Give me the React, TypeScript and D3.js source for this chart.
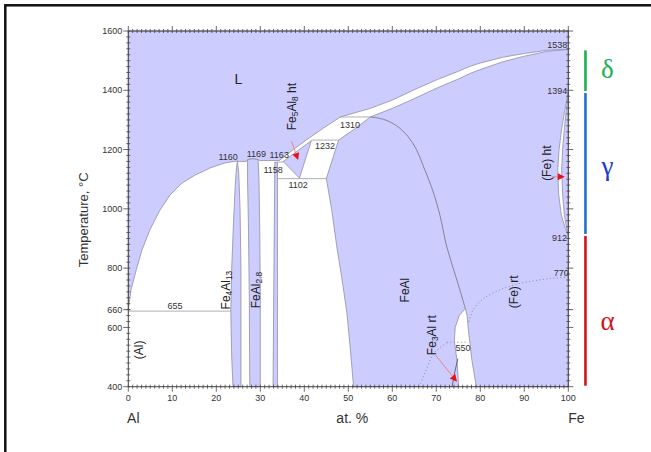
import * as d3 from 'd3';

type Pt = [number, number]; // [at.% Fe, temperature °C]

// single-phase fields (filled)
const liquid: Pt[] = [
  [0, 1600], [100, 1600], [100, 1538], [95, 1535], [92.9, 1530], [90, 1524], [85.3, 1512],
  [80, 1492], [77.7, 1481], [75, 1464], [70.2, 1436], [65, 1402], [62.6, 1385], [60, 1367],
  [55, 1339], [48.2, 1310], [44.3, 1272], [40.6, 1234], [37.5, 1200], [35.3, 1175],
  [34.3, 1163], [29.8, 1163], [29.5, 1166], [28.3, 1169], [27.1, 1166], [26.8, 1160],
  [25.2, 1160], [24.8, 1161], [24.5, 1161], [22, 1155], [18.6, 1138], [15.2, 1114],
  [12.2, 1087], [9.5, 1047], [7.2, 996], [4.9, 929], [3.1, 861], [1.8, 794], [0.6, 726],
  [0, 660],
];
const fe4al13: Pt[] = [
  [24.8, 1161], [25.1, 1120], [25.4, 1000], [25.6, 800], [25.6, 600], [25.6, 400],
  [23.8, 400], [23.5, 500], [23.3, 655], [23.5, 800], [23.9, 950], [24.3, 1080], [24.6, 1140],
];
const fe2al5: Pt[] = [
  [27.1, 1166], [28.3, 1169], [29.5, 1166], [29.7, 1100], [29.9, 900], [30, 700], [30, 400],
  [27.6, 400], [27.5, 700], [27.3, 950], [27.1, 1100],
];
const feal2: Pt[] = [
  [33.3, 1157], [33.9, 1157], [33.9, 800], [33.9, 400], [32.9, 400], [33.1, 800],
];
const fe5al8: Pt[] = [[35.2, 1160], [41.6, 1230], [38.9, 1104]];
const fealFe: Pt[] = [
  [100, 1538], [95, 1531], [92.9, 1524], [90, 1515], [85.3, 1497], [80, 1470], [77.7, 1457],
  [75, 1438], [70.2, 1408], [65, 1372], [62.6, 1356], [60, 1339], [55, 1310], [51.5, 1270],
  [47.8, 1232], [45, 1102], [46.2, 1000], [47.4, 871], [48.6, 760], [49.7, 647], [50.5, 520],
  [51.2, 400], [75.1, 400], [74.7, 488], [74.1, 555], [74.3, 600], [75.2, 640], [76.6, 664],
  [77, 640], [77.3, 589], [77.7, 540], [78.1, 488], [79.1, 400], [100, 400],
];
const gammaOuter: Pt[] = [
  [100, 1394], [99.3, 1340], [98.5, 1270], [97.9, 1200], [97.6, 1131], [97.8, 1050],
  [98.4, 980], [99.3, 935], [100, 912],
];
const gammaInner: Pt[] = [
  [100, 1394], [99.6, 1340], [99.1, 1270], [98.7, 1200], [98.5, 1131], [98.7, 1050],
  [99.1, 980], [99.6, 935], [100, 912],
];

// transition lines
const b2Line: Pt[] = [
  [55, 1310], [58, 1302], [61, 1280], [63.5, 1245], [65.5, 1200], [67.1, 1142], [69, 1070],
  [70.8, 980], [72.4, 871], [74.7, 759], [76.6, 664],
];
const d03Solid: Pt[] = [[74.9, 495], [74.2, 450], [73.6, 400]];
const curie: Pt[] = [
  [100, 770], [96, 765], [92, 757], [88, 745], [84.5, 727], [81, 700], [78.4, 660], [77.4, 618],
];
const d03Dotted: Pt[] = [[72.4, 548], [69.4, 512], [67.8, 460], [66.4, 411], [66.1, 400]];
const dotted550: Pt[] = [[72.4, 550], [77.2, 550]];

// invariant lines: [temperature, from, to]
const isotherms: [number, number, number][] = [
  [655, 0, 23.3], [1158, 33.9, 35.3], [1102, 33.9, 45], [1232, 41.6, 47.8], [1310, 48.2, 55],
];

// temperature annotations: [text, at.%, °C]
const tempLabels: [string, number, number][] = [
  ['1160', 22.7, 1175], ['1169', 29.1, 1185], ['1163', 34.3, 1182], ['1158', 32.9, 1131],
  ['1232', 44.7, 1212], ['1310', 50.4, 1283], ['1102', 38.6, 1080], ['1538', 97.5, 1553],
  ['1394', 97.5, 1398], ['912', 98, 902], ['770', 98.4, 784], ['655', 10.6, 672],
  ['550', 76.1, 530],
];

// phase names: [text ({} = subscript), at.%, °C, rotated]
const phaseLabels: [string, number, number, boolean][] = [
  ['L', 25, 1441, false],
  ['Fe{5}Al{8} ht', 36.8, 1345, true],
  ['Fe{4}Al{13}', 21.8, 726, true],
  ['FeAl{2.8}', 28.6, 726, true],
  ['(Al)', 2.1, 524, true],
  ['FeAl', 62.6, 726, true],
  ['Fe{3}Al rt', 68.6, 574, true],
  ['(Fe) rt', 87.2, 720, true],
  ['(Fe) ht', 94.7, 1154, true],
];

// pointer arrows: [from, to]
const arrows: [Pt, Pt][] = [
  [[37.1, 1228], [38.6, 1165]],
  [[69.8, 507], [74.7, 417]],
  [[96.2, 1108], [99.2, 1108]],
];

const xTicks = d3.range(0, 101, 10);
const yTicks = d3.range(400, 1601, 200);
const xMinor = d3.range(0, 101, 1).filter((v) => v % 10 !== 0);
const yMinor = d3.range(400, 1601, 20).filter((v) => v % 200 !== 0);

// iron allotropes: [symbol, from °C, to °C, label °C, bar colour, text colour]
const ironBands: [string, number, number, number, string, string][] = [
  ['δ', 1394, 1538, 1468, '#1fae4f', '#1fae4f'],
  ['γ', 912, 1394, 1142, '#1f72c8', '#1a3ccc'],
  ['α', 400, 912, 619, '#d3121c', '#d3121c'],
];

const FILL = '#ccccff';
const EDGE = '#8e8ea4';

function rich(s: string, size: number) {
  const parts = s.split(/(\{[^}]*\})/).filter((p) => p.length);
  let sub = false;
  return parts.map((p, i) => {
    const isSub = p.startsWith('{');
    const dy = isSub && !sub ? size * 0.2 : !isSub && sub ? -size * 0.2 : 0;
    sub = isSub;
    return (
      <tspan key={i} dy={dy || undefined} fontSize={isSub ? size * 0.7 : size}>
        {isSub ? p.slice(1, -1) : p}
      </tspan>
    );
  });
}

export default function App() {
  const x = d3.scaleLinear().domain([0, 100]).range([128.3, 568.3]);
  const y = d3.scaleLinear().domain([400, 1600]).range([386.7, 31]);
  const lin = d3.line<Pt>().x((d) => x(d[0])).y((d) => y(d[1]));
  const curve = d3.line<Pt>().x((d) => x(d[0])).y((d) => y(d[1])).curve(d3.curveCatmullRom.alpha(0.5));
  const poly = (p: Pt[]) => (lin(p) ?? '') + 'Z';
  const x0 = x(0), x1 = x(100), y0 = y(400), y1 = y(1600);
  const font = 'Liberation Sans, Arial, sans-serif';

  return (
    <svg width={651} height={452} style={{ position: 'absolute', left: 0, top: 0 }}>
      <rect x={0} y={0} width={651} height={452} fill="#fff" />
      <rect x={5.3} y={5.3} width={700} height={500} fill="none" stroke="#111" strokeWidth={2.5} />

      {/* phase fields */}
      {[liquid, fe4al13, fe2al5, feal2, fe5al8, fealFe].map((p, i) => (
        <path key={i} d={poly(p)} fill={FILL} stroke={EDGE} strokeWidth={0.8} strokeLinejoin="round" />
      ))}
      <path d={poly(gammaOuter)} fill="#fff" stroke={EDGE} strokeWidth={0.8} />
      <path d={poly(gammaInner)} fill={FILL} stroke={EDGE} strokeWidth={0.8} />

      {isotherms.map(([t, a, b]) => (
        <line key={t} x1={x(a)} x2={x(b)} y1={y(t)} y2={y(t)} stroke="#9a9aa6" strokeWidth={0.8} />
      ))}

      <path d={curve(b2Line) ?? ''} fill="none" stroke="#7a7a88" strokeWidth={0.9} />
      <path d={lin(d03Solid) ?? ''} fill="none" stroke="#5a5a78" strokeWidth={0.9} />
      {[curie, d03Dotted, dotted550].map((p, i) => (
        <path key={i} d={curve(p) ?? ''} fill="none" stroke="#8a8aa0" strokeWidth={1} strokeDasharray="1 2.5" />
      ))}

      {/* frame + ticks */}
      <rect x={x0} y={y1} width={x1 - x0} height={y0 - y1} fill="none" stroke="#444" strokeWidth={1} />
      <g stroke="#444" strokeWidth={0.8}>
        {xMinor.map((v) => (
          <g key={`xm${v}`}>
            <line x1={x(v)} x2={x(v)} y1={y0 - 2} y2={y0 + 2} />
            <line x1={x(v)} x2={x(v)} y1={y1 - 2} y2={y1 + 2} />
          </g>
        ))}
        {xTicks.map((v) => (
          <g key={`xM${v}`}>
            <line x1={x(v)} x2={x(v)} y1={y0 - 2} y2={y0 + 5} />
            <line x1={x(v)} x2={x(v)} y1={y1 + 2} y2={y1 - 5} />
          </g>
        ))}
        {yMinor.map((v) => (
          <g key={`ym${v}`}>
            <line x1={x0 - 2} x2={x0 + 2} y1={y(v)} y2={y(v)} />
            <line x1={x1 - 2} x2={x1 + 2} y1={y(v)} y2={y(v)} />
          </g>
        ))}
        {[...yTicks, 660].map((v) => (
          <g key={`yM${v}`}>
            <line x1={x0 - 5} x2={x0 + 2} y1={y(v)} y2={y(v)} />
            <line x1={x1 - 2} x2={x1 + 5} y1={y(v)} y2={y(v)} />
          </g>
        ))}
      </g>
      <g fontFamily={font} fontSize={9} fill="#333">
        {xTicks.map((v) => (
          <text key={v} x={x(v)} y={y0 + 14} textAnchor="middle">{v}</text>
        ))}
        {[...yTicks, 660].map((v) => (
          <text key={v} x={x0 - 6} y={y(v)} dy="0.35em" textAnchor="end">{v}</text>
        ))}
        {tempLabels.map(([s, a, t]) => (
          <text key={s} x={x(a)} y={y(t)} dy="0.35em" textAnchor="middle">{s}</text>
        ))}
      </g>

      {/* axis titles */}
      <g fontFamily={font} fill="#333">
        <text transform={`translate(88,${(y0 + y1) / 2 + 11}) rotate(-90)`} textAnchor="middle" fontSize={13}>
          Temperature, °C
        </text>
        <text x={x(50) + 4} y={423} textAnchor="middle" fontSize={14}>at. %</text>
        <text x={x(0) + 5} y={423} textAnchor="middle" fontSize={14}>Al</text>
        <text x={x(100) + 8} y={423} textAnchor="middle" fontSize={14}>Fe</text>
      </g>

      {/* phase labels */}
      <g fontFamily={font} fill="#222">
        {phaseLabels.map(([s, a, t, rot]) => (
          <text
            key={s}
            transform={`translate(${x(a)},${y(t)})${rot ? ' rotate(-90)' : ''}`}
            textAnchor="middle"
            dy="0.35em"
          >
            {rich(s, s === 'L' ? 14 : 12)}
          </text>
        ))}
      </g>

      {/* arrows */}
      {arrows.map(([a, b], i) => {
        const ax = x(a[0]), ay = y(a[1]), bx = x(b[0]), by = y(b[1]);
        const ang = Math.atan2(by - ay, bx - ax);
        const L = 7, w = 3.5;
        const hx = bx - L * Math.cos(ang), hy = by - L * Math.sin(ang);
        const px = -Math.sin(ang) * w, py = Math.cos(ang) * w;
        return (
          <g key={i}>
            <line x1={ax} y1={ay} x2={hx} y2={hy} stroke="#f07a7a" strokeWidth={0.9} />
            <path d={`M${bx},${by}L${hx + px},${hy + py}L${hx - px},${hy - py}Z`} fill="#e8101a" />
          </g>
        );
      })}

      {/* iron allotrope bars */}
      {ironBands.map(([s, a, b, lt, c, tc]) => (
        <g key={s}>
          <line x1={x(103.9)} x2={x(103.9)} y1={y(b) + 1} y2={y(a) - 1} stroke={c} strokeWidth={2.6} />
          <text
            x={x(108.9)}
            y={y(lt)}
            dy="0.3em"
            textAnchor="middle"
            fontFamily="Liberation Serif, Times New Roman, serif"
            fontSize={27}
            fill={tc}
          >
            {s}
          </text>
        </g>
      ))}
    </svg>
  );
}
